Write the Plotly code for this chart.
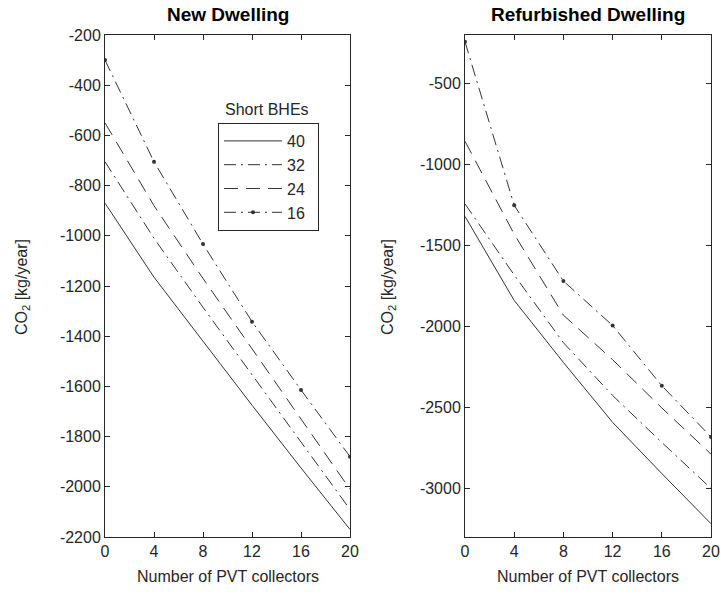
import plotly.graph_objects as go

# ---------------- data ----------------
pvt = [0, 4, 8, 12, 16, 20]
bhe_labels = ["40", "32", "24", "16"]

new_40 = [-870, -1165, -1420, -1675, -1925, -2170]
new_32 = [-705, -1010, -1285, -1555, -1825, -2090]
new_24 = [-550, -880, -1170, -1450, -1730, -2010]
new_16 = [-300, -705, -1033, -1342, -1614, -1880]

ref_40 = [-1320, -1839, -2222, -2592, -2908, -3218]
ref_32 = [-1243, -1682, -2100, -2426, -2716, -3000]
ref_24 = [-856, -1430, -1930, -2205, -2503, -2788]
ref_16 = [-242, -1252, -1719, -1994, -2366, -2682]

x_ticks = [0, 4, 8, 12, 16, 20]
x_ticktext = ["0", "4", "8", "12", "16", "20"]
new_yticks = [-200, -400, -600, -800, -1000, -1200, -1400, -1600, -1800, -2000, -2200]
new_yticktext = ["-200", "-400", "-600", "-800", "-1000", "-1200", "-1400", "-1600", "-1800", "-2000", "-2200"]
ref_yticks = [-500, -1000, -1500, -2000, -2500, -3000]
ref_yticktext = ["-500", "-1000", "-1500", "-2000", "-2500", "-3000"]

titles = ["New Dwelling", "Refurbished Dwelling"]
xlabel = "Number of PVT collectors"
ylabel = "CO<sub>2</sub> [kg/year]"
legend_title = "Short BHEs"

# ---------------- styling ----------------
LINE = "#333333"
AX = "#262626"
FONT = "Liberation Sans, Arial, Helvetica, sans-serif"
DASHDOT = "12px,5px,2px,5px"
DASHED = "14px,8px"
dashes = ["solid", DASHDOT, DASHED, DASHDOT]

fig = go.Figure()

new_series = [new_40, new_32, new_24, new_16]
ref_series = [ref_40, ref_32, ref_24, ref_16]

for i, (lab, ys) in enumerate(zip(bhe_labels, new_series)):
    fig.add_trace(go.Scatter(
        x=pvt, y=ys, name=lab + "\u2002", xaxis="x", yaxis="y",
        mode="lines+markers" if lab == "16" else "lines",
        line=dict(color=LINE, width=1, dash=dashes[i]),
        marker=dict(size=4, color=LINE),
        showlegend=True,
    ))
for i, (lab, ys) in enumerate(zip(bhe_labels, ref_series)):
    fig.add_trace(go.Scatter(
        x=pvt, y=ys, name=lab, xaxis="x2", yaxis="y2",
        mode="lines+markers" if lab == "16" else "lines",
        line=dict(color=LINE, width=1, dash=dashes[i]),
        marker=dict(size=4, color=LINE),
        showlegend=False,
    ))

W, H = 721, 601
def px_x(p):
    return p / W
def px_y(p):
    return 1 - p / H

TICKSIZE = 16
LABELSIZE = 16

common_x = dict(
    range=[0, 20], tickvals=x_ticks, ticktext=x_ticktext,
    ticks="inside", ticklen=5, tickcolor=AX, showline=True, linecolor=AX,
    linewidth=1, mirror="ticks", showgrid=False, zeroline=False,
    automargin=False,
    tickfont=dict(family=FONT, size=TICKSIZE, color=AX),
)
common_y = dict(
    ticks="inside", ticklen=5, tickcolor=AX, showline=True, linecolor=AX,
    linewidth=1, mirror="ticks", showgrid=False, zeroline=False,
    automargin=False,
    tickfont=dict(family=FONT, size=TICKSIZE, color=AX),
)

fig.update_layout(
    width=W, height=H,
    margin=dict(l=0, r=0, t=0, b=0, autoexpand=False),
    paper_bgcolor="white", plot_bgcolor="white",
    font=dict(family=FONT, color=AX),
    xaxis=dict(common_x, domain=[px_x(105), px_x(350)], anchor="y"),
    yaxis=dict(common_y, domain=[px_y(537), px_y(35)], anchor="x",
               range=[-2200, -200], tickvals=new_yticks, ticktext=new_yticktext),
    xaxis2=dict(common_x, domain=[px_x(465), px_x(711)], anchor="y2"),
    yaxis2=dict(common_y, domain=[px_y(537), px_y(35)], anchor="x2",
                range=[-3300, -200], tickvals=ref_yticks, ticktext=ref_yticktext),
    legend=dict(
        x=px_x(218), y=px_y(123), xanchor="left", yanchor="top",
        bordercolor=AX, borderwidth=1, bgcolor="white",
        font=dict(family=FONT, size=16, color=AX),
        itemwidth=58, tracegroupgap=0,
    ),
    annotations=[
        dict(text="<b>" + titles[0] + "</b>", xref="x domain", yref="paper",
             x=0.5, y=px_y(15), showarrow=False, xanchor="center", yanchor="middle",
             font=dict(family=FONT, size=19, color="black")),
        dict(text="<b>" + titles[1] + "</b>", xref="x2 domain", yref="paper",
             x=0.5, y=px_y(15), showarrow=False, xanchor="center", yanchor="middle",
             font=dict(family=FONT, size=19, color="black")),
        dict(text=legend_title, xref="paper", yref="paper",
             x=px_x(267), y=px_y(109), showarrow=False, xanchor="center", yanchor="middle",
             font=dict(family=FONT, size=16, color=AX)),
        dict(text=xlabel, xref="x domain", yref="paper",
             x=0.5, y=px_y(576), showarrow=False, xanchor="center", yanchor="middle",
             font=dict(family=FONT, size=LABELSIZE, color=AX)),
        dict(text=xlabel, xref="x2 domain", yref="paper",
             x=0.5, y=px_y(576), showarrow=False, xanchor="center", yanchor="middle",
             font=dict(family=FONT, size=LABELSIZE, color=AX)),
        dict(text=ylabel, xref="paper", yref="paper", textangle=-90,
             x=px_x(22), y=px_y(287), showarrow=False, xanchor="center", yanchor="middle",
             font=dict(family=FONT, size=LABELSIZE, color=AX)),
        dict(text=ylabel, xref="paper", yref="paper", textangle=-90,
             x=px_x(388), y=px_y(287), showarrow=False, xanchor="center", yanchor="middle",
             font=dict(family=FONT, size=LABELSIZE, color=AX)),
    ],
)

fig.write_html("out.html",
               config={"displayModeBar": False},
               post_script="document.body.style.margin='0px';document.body.style.overflow='hidden';")
